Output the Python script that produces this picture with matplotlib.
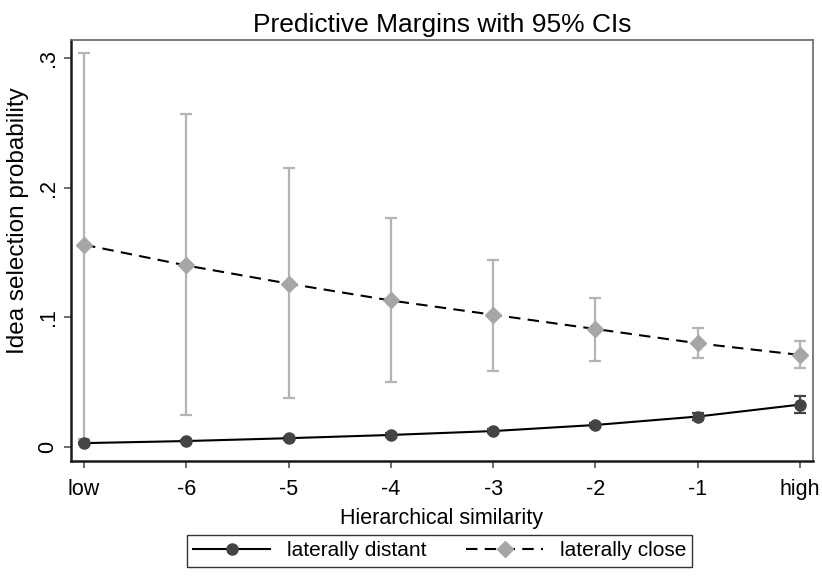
import numpy as np
import matplotlib
matplotlib.use("Agg")
import matplotlib.pyplot as plt

plt.rcParams['font.family'] = ['Liberation Sans', 'DejaVu Sans']

#%% data
x_pos = [-7, -6, -5, -4, -3, -2, -1, 0]
x_labels = ["low", "-6", "-5", "-4", "-3", "-2", "-1", "high"]

distant = [0.003, 0.0046, 0.0068, 0.0093, 0.0123, 0.0170, 0.0235, 0.0327]
distant_lo = [0.002, 0.0035, 0.0055, 0.0080, 0.0110, 0.0155, 0.0210, 0.0265]
distant_hi = [0.004, 0.0057, 0.0081, 0.0106, 0.0136, 0.0185, 0.0260, 0.0390]

close = [0.156, 0.140, 0.126, 0.113, 0.102, 0.091, 0.080, 0.071]
close_lo = [0.006, 0.025, 0.038, 0.050, 0.059, 0.066, 0.069, 0.061]
close_hi = [0.304, 0.257, 0.215, 0.177, 0.144, 0.115, 0.092, 0.082]

#%% figure
fig = plt.figure(figsize=(8.22, 5.78), dpi=100)
ax = fig.add_axes([0.0864, 0.2024, 0.9026, 0.7284])

c_err = "#b4b4b4"
c_close = "#a6a6a6"
c_dist = "#444444"

ax.errorbar(x_pos, close,
            yerr=[np.subtract(close, close_lo), np.subtract(close_hi, close)],
            fmt="none", ecolor=c_err, elinewidth=1.6, capsize=4, capthick=1.6, zorder=1)
ax.errorbar(x_pos, distant,
            yerr=[np.subtract(distant, distant_lo), np.subtract(distant_hi, distant)],
            fmt="none", ecolor=c_dist, elinewidth=1.6, capsize=4, capthick=1.6, zorder=2)

ax.plot(x_pos, distant, color="black", linewidth=1.5, marker="o", markersize=8,
        markerfacecolor=c_dist, markeredgecolor=c_dist, label="laterally distant", zorder=3)
ax.plot(x_pos, close, color="black", linewidth=1.5, linestyle=(0, (5.5, 3.5)), marker="D",
        markersize=8, markerfacecolor=c_close, markeredgecolor=c_close,
        label="laterally close", zorder=3)

ax.set_xlim(-7.127, 0.127)
ax.set_ylim(-0.0108, 0.3139)
ax.set_xticks(x_pos)
ax.set_xticklabels(x_labels, fontsize=15.5)
ax.set_yticks([0, 0.1, 0.2, 0.3])
ax.set_yticklabels(["0", ".1", ".2", ".3"], fontsize=15.5, rotation=90, va="center")
ax.tick_params(direction="out", length=5, width=1.2, color="#555555")
ax.tick_params(axis="x", pad=8)
ax.tick_params(axis="y", pad=4)

for side in ["left", "bottom"]:
    ax.spines[side].set_linewidth(1.8)
    ax.spines[side].set_color("#1a1a1a")
for side in ["top", "right"]:
    ax.spines[side].set_linewidth(1.2)
    ax.spines[side].set_color("#666666")

ax.set_xlabel("Hierarchical similarity", fontsize=15.5, labelpad=6)
ax.set_ylabel("Idea selection probability", fontsize=17.5)
ax.yaxis.set_label_coords(-0.056, 0.57)
ax.set_title("Predictive Margins with 95% CIs", fontsize=19, pad=6)

leg = fig.legend(loc="center", bbox_to_anchor=(0.535, 0.047), ncol=2, fontsize=15,
                 fancybox=False, framealpha=1, edgecolor="#333333", handlelength=3.7,
                 columnspacing=1.9, borderpad=0.3, handletextpad=0.8, borderaxespad=0.5)
leg.get_frame().set_linewidth(1.0)

fig.savefig("out.png", dpi=100)
